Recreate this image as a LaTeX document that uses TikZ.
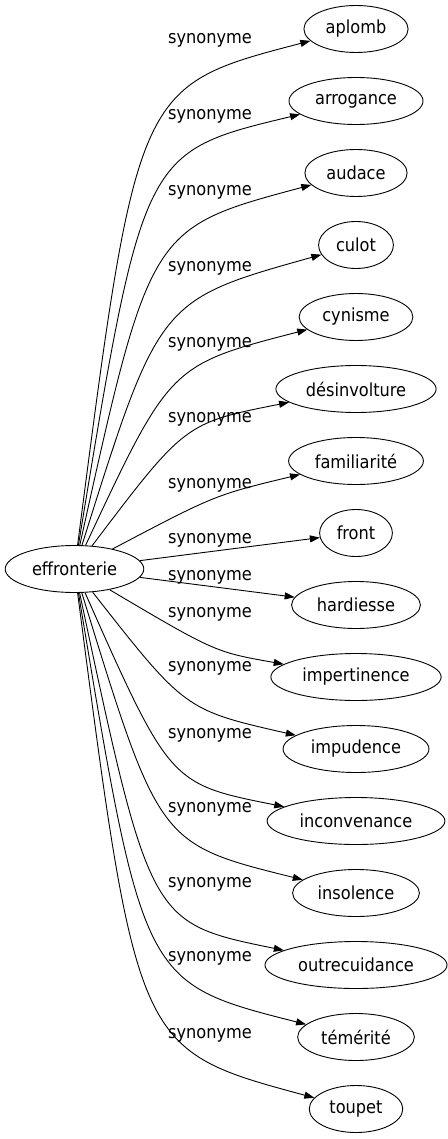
\documentclass[tikz,border=0pt]{standalone}
\usepackage{fontspec}
\setmainfont{DejaVu Sans Condensed}
\usetikzlibrary{arrows.meta,shapes.geometric}
\begin{document}
\begin{tikzpicture}[x=1pt,y=1pt,
    word/.style={draw,ellipse,line width=0.9pt,inner xsep=6.5pt,inner ysep=2pt,
      minimum height=47pt,font=\fontsize{18}{22}\selectfont},
    lab/.style={anchor=base,font=\fontsize{18}{22}\selectfont},
    syn/.style={-{Triangle[length=10pt,width=7pt]},line width=0.9pt}]
  \useasboundingbox (0,0) rectangle (447,-1139);
  % words
  \node[word] (effronterie) at (74.5,-569) {effronterie};
  \node[word] (aplomb) at (356,-29) {aplomb};
  \node[word] (arrogance) at (356,-101) {arrogance};
  \node[word] (audace) at (356,-173) {audace};
  \node[word] (culot) at (356,-245) {culot};
  \node[word] (cynisme) at (356,-317) {cynisme};
  \node[word] (desinvolture) at (356,-389) {désinvolture};
  \node[word] (familiarite) at (356,-461) {familiarité};
  \node[word] (front) at (356,-533) {front};
  \node[word] (hardiesse) at (356,-605) {hardiesse};
  \node[word] (impertinence) at (356,-677) {impertinence};
  \node[word] (impudence) at (356,-749) {impudence};
  \node[word] (inconvenance) at (356,-821) {inconvenance};
  \node[word] (insolence) at (356,-893) {insolence};
  \node[word] (outrecuidance) at (356,-965) {outrecuidance};
  \node[word] (temerite) at (356,-1037) {témérité};
  \node[word] (toupet) at (356,-1109) {toupet};
  % labels
  \node[lab] (l1) at (210,-44) {synonyme};
  \node[lab] (l2) at (210,-120) {synonyme};
  \node[lab] (l3) at (210,-195.5) {synonyme};
  \node[lab] (l4) at (210,-271.5) {synonyme};
  \node[lab] (l5) at (210,-347) {synonyme};
  \node[lab] (l6) at (210,-422) {synonyme};
  \node[lab] (l7) at (210,-488) {synonyme};
  \node[lab] (l8) at (210,-543) {synonyme};
  \node[lab] (l9) at (210,-580) {synonyme};
  \node[lab] (l10) at (210,-617) {synonyme};
  \node[lab] (l11) at (210,-671) {synonyme};
  \node[lab] (l12) at (210,-738) {synonyme};
  \node[lab] (l13) at (210,-812.5) {synonyme};
  \node[lab] (l14) at (210,-887) {synonyme};
  \node[lab] (l15) at (210,-961.5) {synonyme};
  \node[lab] (l16) at (210,-1038) {synonyme};
  % edges
  \begin{scope}[syn]
    \draw (effronterie) .. controls (137,-86) and (137,-86) .. (aplomb);
    \draw (effronterie) .. controls (143,-152) and (143,-152) .. (arrogance);
    \draw (effronterie) .. controls (150,-228) and (150,-228) .. (audace);
    \draw (effronterie) .. controls (159,-300) and (159,-300) .. (culot);
    \draw (effronterie) .. controls (170,-365) and (170,-365) .. (cynisme);
    \draw (effronterie) .. controls (185,-423) and (185,-423) .. (desinvolture);
    \draw (effronterie) .. controls (215,-495) and (215,-495) .. (familiarite);
    \draw (effronterie) -- (front);
    \draw (effronterie) -- (hardiesse);
    \draw (effronterie) .. controls (215,-652) and (215,-652) .. (impertinence);
    \draw (effronterie) .. controls (185,-710) and (185,-710) .. (impudence);
    \draw (effronterie) .. controls (170,-784) and (170,-784) .. (inconvenance);
    \draw (effronterie) .. controls (159,-844) and (159,-844) .. (insolence);
    \draw (effronterie) .. controls (150,-923) and (150,-923) .. (outrecuidance);
    \draw (effronterie) .. controls (143,-983) and (143,-983) .. (temerite);
    \draw (effronterie) .. controls (137,-1050) and (137,-1050) .. (toupet);
  \end{scope}
\end{tikzpicture}
\end{document}
